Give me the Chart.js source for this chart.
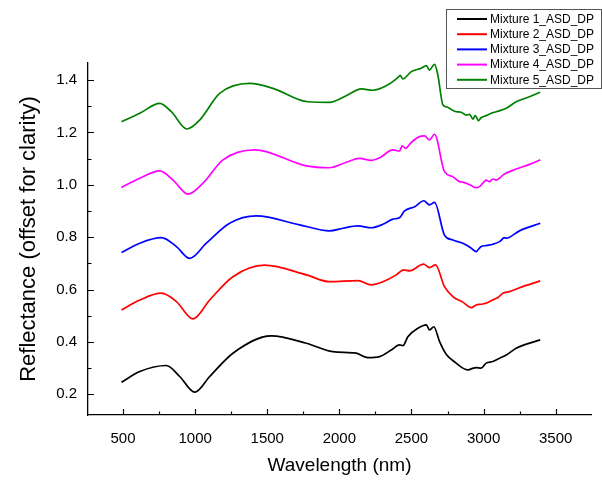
<!DOCTYPE html>
<html><head><meta charset="utf-8">
<script src="https://cdn.jsdelivr.net/npm/chart.js@4.4.1/dist/chart.umd.min.js"></script>
<style>html,body{margin:0;padding:0;background:#fff}canvas{display:block}</style>
</head><body>
<canvas id="c" width="602" height="480"></canvas>
<script>
// ---- data ----
const seriesNames = ['Mixture 1_ASD_DP','Mixture 2_ASD_DP','Mixture 3_ASD_DP','Mixture 4_ASD_DP','Mixture 5_ASD_DP'];
const seriesColors = ['#000000','#ff0000','#0000ff','#ff00ff','#008000'];

const m1Wavelength = [489,616,800,893,997,1101,1262,1528,1771,1955,2117,2198,2279,2360,2417,2441,2475,2545,2603,2625,2655,2695,2741,2810,2856,2891,2914,2949,2983,3018,3064,3111,3157,3226,3393];
const m1Reflectance = [0.246,0.287,0.310,0.268,0.208,0.268,0.357,0.423,0.395,0.363,0.357,0.340,0.344,0.369,0.389,0.386,0.420,0.452,0.465,0.446,0.458,0.401,0.353,0.319,0.300,0.293,0.297,0.302,0.300,0.319,0.325,0.338,0.350,0.376,0.408];

const m2Wavelength = [489,616,766,870,985,1101,1262,1482,1771,1932,2129,2221,2302,2395,2445,2487,2584,2625,2667,2729,2787,2856,2914,2949,2983,3018,3064,3088,3099,3133,3180,3249,3393];
const m2Reflectance = [0.522,0.560,0.586,0.554,0.488,0.560,0.649,0.693,0.656,0.630,0.634,0.618,0.630,0.656,0.675,0.671,0.697,0.684,0.694,0.611,0.573,0.552,0.531,0.541,0.544,0.548,0.560,0.567,0.569,0.586,0.592,0.607,0.633];

const m3Wavelength = [489,616,766,870,962,1078,1239,1424,1725,1932,2025,2129,2221,2302,2371,2417,2452,2522,2586,2625,2660,2729,2787,2856,2880,2914,2949,2960,2984,3018,3064,3111,3145,3157,3249,3393];
const m3Reflectance = [0.741,0.777,0.798,0.764,0.719,0.777,0.853,0.881,0.847,0.824,0.834,0.843,0.836,0.849,0.869,0.874,0.900,0.916,0.939,0.923,0.933,0.808,0.789,0.777,0.770,0.758,0.745,0.751,0.764,0.768,0.773,0.783,0.798,0.796,0.824,0.853];

const m4Wavelength = [489,616,754,847,950,1054,1193,1413,1771,1932,2048,2140,2221,2279,2371,2417,2436,2459,2499,2556,2591,2625,2660,2729,2787,2833,2856,2879,2914,2949,2972,2995,3018,3041,3064,3088,3110,3133,3226,3318,3393];
const m4Reflectance = [0.990,1.025,1.053,1.018,0.964,1.006,1.095,1.133,1.072,1.065,1.086,1.101,1.093,1.103,1.133,1.129,1.149,1.139,1.162,1.184,1.187,1.171,1.193,1.050,1.031,1.012,1.010,1.006,0.997,0.989,0.993,1.006,1.018,1.012,1.022,1.018,1.025,1.037,1.060,1.078,1.095];

const m5Wavelength = [489,616,754,835,943,1031,1170,1378,1540,1782,1932,2048,2152,2233,2325,2406,2422,2440,2499,2568,2603,2625,2660,2683,2718,2741,2810,2845,2880,2903,2926,2942,2965,2983,3018,3053,3088,3157,3226,3318,3393];
const m5Reflectance = [1.241,1.273,1.311,1.279,1.213,1.247,1.349,1.387,1.368,1.317,1.315,1.340,1.366,1.361,1.378,1.409,1.418,1.404,1.432,1.445,1.455,1.438,1.460,1.419,1.305,1.298,1.279,1.277,1.266,1.269,1.251,1.264,1.245,1.256,1.264,1.273,1.279,1.292,1.317,1.336,1.353];

const xTickValues = [500,1000,1500,2000,2500,3000,3500];
const xMinorTicks = [750,1250,1750,2250,2750,3250];
const yTickValues = [0.2,0.4,0.6,0.8,1.0,1.2,1.4];
const yMinorTicks = [0.3,0.5,0.7,0.9,1.1,1.3];
const xTitle = 'Wavelength (nm)';
const yTitle = 'Reflectance (offset for clarity)';

// ---- build ----
const allX = [m1Wavelength,m2Wavelength,m3Wavelength,m4Wavelength,m5Wavelength];
const allY = [m1Reflectance,m2Reflectance,m3Reflectance,m4Reflectance,m5Reflectance];
const datasets = seriesNames.map((name,i)=>({
  label: name,
  data: allX[i].map((x,j)=>({x:x,y:allY[i][j]})),
  borderColor: seriesColors[i],
  backgroundColor: seriesColors[i],
  borderWidth: 1.7,
  pointRadius: 0,
  cubicInterpolationMode: 'monotone',
  fill: false
}));

Chart.defaults.font.family = "'Liberation Sans', Arial, sans-serif";
Chart.defaults.color = '#000';

const tickPlugin = {
  id: 'tickMarks',
  afterDraw(chart){
    const ctx = chart.ctx, xs = chart.scales.x, ys = chart.scales.y;
    const b = chart.chartArea.bottom, l = chart.chartArea.left;
    ctx.save();
    ctx.strokeStyle = '#000'; ctx.lineWidth = 1.2;
    ctx.beginPath();
    xTickValues.forEach(v=>{const p=Math.round(xs.getPixelForValue(v))+0.5; ctx.moveTo(p,b); ctx.lineTo(p,b-6);});
    xMinorTicks.forEach(v=>{const p=Math.round(xs.getPixelForValue(v))+0.5; ctx.moveTo(p,b); ctx.lineTo(p,b-3.5);});
    yTickValues.forEach(v=>{const p=Math.round(ys.getPixelForValue(v))+0.5; ctx.moveTo(l,p); ctx.lineTo(l+6,p);});
    yMinorTicks.forEach(v=>{const p=Math.round(ys.getPixelForValue(v))+0.5; ctx.moveTo(l,p); ctx.lineTo(l+3.5,p);});
    ctx.stroke();
    // legend box
    const bx=446, by=9, bw=155, bh=79;
    ctx.fillStyle='#fff'; ctx.fillRect(bx,by,bw,bh);
    ctx.strokeStyle='#555'; ctx.lineWidth=1; ctx.strokeRect(bx+0.5,by+0.5,bw,bh);
    ctx.font = "12px 'Liberation Sans', Arial, sans-serif";
    ctx.textBaseline='middle'; ctx.textAlign='left';
    chart.data.datasets.forEach((d,i)=>{
      const y = 19 + i*15.2;
      ctx.strokeStyle=d.borderColor; ctx.lineWidth=2;
      ctx.beginPath(); ctx.moveTo(457,y); ctx.lineTo(487,y); ctx.stroke();
      ctx.fillStyle='#000'; ctx.fillText(d.label,490,y+0.5);
    });
    ctx.restore();
  }
};

new Chart(document.getElementById('c'),{
  type:'line',
  data:{datasets},
  options:{
    responsive:false, animation:false, devicePixelRatio:1,
    layout:{padding:{top:63,right:11,bottom:0,left:0}},
    plugins:{legend:{display:false},tooltip:{enabled:false}},
    scales:{
      x:{type:'linear',min:257,max:3745,
        grid:{display:false,drawTicks:false},
        border:{display:true,color:'#000',width:1.3},
        afterBuildTicks:s=>{s.ticks=xTickValues.map(v=>({value:v}));},
        afterFit:s=>{s.height=65;},
        ticks:{autoSkip:false,maxRotation:0,padding:15,font:{size:15},callback:v=>String(v)},
        title:{display:true,text:xTitle,font:{size:19},padding:{top:0,bottom:3}}
      },
      y:{type:'linear',min:0.121,max:1.465,
        grid:{display:false,drawTicks:false},
        border:{display:true,color:'#000',width:1.3},
        afterBuildTicks:s=>{s.ticks=yTickValues.map(v=>({value:v}));},
        afterFit:s=>{s.width=88;},
        ticks:{autoSkip:false,padding:11,font:{size:15},callback:v=>Number(v).toFixed(1)},
        title:{display:true,text:yTitle,font:{size:22},padding:{top:16,bottom:0}}
      }
    }
  },
  plugins:[tickPlugin]
});
</script>
</body></html>
